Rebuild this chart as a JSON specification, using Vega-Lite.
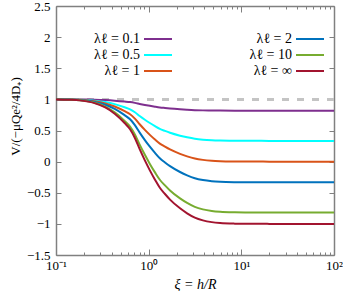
{
  "$schema": "https://vega.github.io/schema/vega-lite/v6.json",
  "width": 278,
  "height": 249,
  "autosize": "none",
  "padding": {"left": 56, "top": 6, "right": 9, "bottom": 36},
  "config": {
    "view": {"stroke": null},
    "font": "Liberation Serif",
    "axis": {
      "grid": false,
      "domainColor": "#808080",
      "domainWidth": 1.5,
      "tickColor": "#808080",
      "tickWidth": 1,
      "labelFont": "Liberation Serif",
      "labelFontSize": 13,
      "labelColor": "#000000",
      "titleFont": "Liberation Serif",
      "titleFontSize": 13,
      "titleFontWeight": "normal",
      "titleColor": "#000000",
      "labelFlush": false,
      "labelOverlap": false
    }
  },
  "data": {
    "values": [
      {"x": 0.1, "s": "λℓ = 0.1", "v": 1}, {"x": 0.14, "s": "λℓ = 0.1", "v": 0.9995}, {"x": 0.18, "s": "λℓ = 0.1", "v": 0.9985}, {"x": 0.23, "s": "λℓ = 0.1", "v": 0.9964}, {"x": 0.26, "s": "λℓ = 0.1", "v": 0.9945}, {"x": 0.34, "s": "λℓ = 0.1", "v": 0.9882}, {"x": 0.43, "s": "λℓ = 0.1", "v": 0.9791}, {"x": 0.55, "s": "λℓ = 0.1", "v": 0.9655}, {"x": 0.63, "s": "λℓ = 0.1", "v": 0.9564}, {"x": 0.71, "s": "λℓ = 0.1", "v": 0.9436}, {"x": 0.8, "s": "λℓ = 0.1", "v": 0.9273}, {"x": 0.91, "s": "λℓ = 0.1", "v": 0.9109}, {"x": 1.03, "s": "λℓ = 0.1", "v": 0.8964}, {"x": 1.17, "s": "λℓ = 0.1", "v": 0.8827}, {"x": 1.32, "s": "λℓ = 0.1", "v": 0.8709}, {"x": 1.5, "s": "λℓ = 0.1", "v": 0.8618}, {"x": 1.7, "s": "λℓ = 0.1", "v": 0.8536}, {"x": 2.18, "s": "λℓ = 0.1", "v": 0.8409}, {"x": 2.6, "s": "λℓ = 0.1", "v": 0.8336}, {"x": 3.15, "s": "λℓ = 0.1", "v": 0.8273}, {"x": 3.85, "s": "λℓ = 0.1", "v": 0.8233}, {"x": 4.8, "s": "λℓ = 0.1", "v": 0.8207}, {"x": 5.9, "s": "λℓ = 0.1", "v": 0.8195}, {"x": 8.5, "s": "λℓ = 0.1", "v": 0.8185}, {"x": 12.4, "s": "λℓ = 0.1", "v": 0.8183}, {"x": 20, "s": "λℓ = 0.1", "v": 0.8182}, {"x": 100, "s": "λℓ = 0.1", "v": 0.8182},
      {"x": 0.1, "s": "λℓ = 0.5", "v": 1}, {"x": 0.14, "s": "λℓ = 0.5", "v": 0.998}, {"x": 0.18, "s": "λℓ = 0.5", "v": 0.9947}, {"x": 0.23, "s": "λℓ = 0.5", "v": 0.9867}, {"x": 0.26, "s": "λℓ = 0.5", "v": 0.98}, {"x": 0.34, "s": "λℓ = 0.5", "v": 0.9567}, {"x": 0.43, "s": "λℓ = 0.5", "v": 0.9233}, {"x": 0.55, "s": "λℓ = 0.5", "v": 0.8733}, {"x": 0.63, "s": "λℓ = 0.5", "v": 0.84}, {"x": 0.71, "s": "λℓ = 0.5", "v": 0.7933}, {"x": 0.8, "s": "λℓ = 0.5", "v": 0.7333}, {"x": 0.91, "s": "λℓ = 0.5", "v": 0.6733}, {"x": 1.03, "s": "λℓ = 0.5", "v": 0.62}, {"x": 1.17, "s": "λℓ = 0.5", "v": 0.57}, {"x": 1.32, "s": "λℓ = 0.5", "v": 0.5267}, {"x": 1.5, "s": "λℓ = 0.5", "v": 0.4933}, {"x": 1.7, "s": "λℓ = 0.5", "v": 0.4633}, {"x": 2.18, "s": "λℓ = 0.5", "v": 0.4167}, {"x": 2.6, "s": "λℓ = 0.5", "v": 0.39}, {"x": 3.15, "s": "λℓ = 0.5", "v": 0.3667}, {"x": 3.85, "s": "λℓ = 0.5", "v": 0.352}, {"x": 4.8, "s": "λℓ = 0.5", "v": 0.3427}, {"x": 5.9, "s": "λℓ = 0.5", "v": 0.338}, {"x": 8.5, "s": "λℓ = 0.5", "v": 0.3347}, {"x": 12.4, "s": "λℓ = 0.5", "v": 0.3337}, {"x": 20, "s": "λℓ = 0.5", "v": 0.3333}, {"x": 100, "s": "λℓ = 0.5", "v": 0.3333},
      {"x": 0.1, "s": "λℓ = 1", "v": 1}, {"x": 0.14, "s": "λℓ = 1", "v": 0.997}, {"x": 0.18, "s": "λℓ = 1", "v": 0.992}, {"x": 0.23, "s": "λℓ = 1", "v": 0.98}, {"x": 0.26, "s": "λℓ = 1", "v": 0.97}, {"x": 0.34, "s": "λℓ = 1", "v": 0.935}, {"x": 0.43, "s": "λℓ = 1", "v": 0.885}, {"x": 0.55, "s": "λℓ = 1", "v": 0.81}, {"x": 0.63, "s": "λℓ = 1", "v": 0.76}, {"x": 0.71, "s": "λℓ = 1", "v": 0.69}, {"x": 0.8, "s": "λℓ = 1", "v": 0.6}, {"x": 0.91, "s": "λℓ = 1", "v": 0.51}, {"x": 1.03, "s": "λℓ = 1", "v": 0.43}, {"x": 1.17, "s": "λℓ = 1", "v": 0.355}, {"x": 1.32, "s": "λℓ = 1", "v": 0.29}, {"x": 1.5, "s": "λℓ = 1", "v": 0.24}, {"x": 1.7, "s": "λℓ = 1", "v": 0.195}, {"x": 2.18, "s": "λℓ = 1", "v": 0.125}, {"x": 2.6, "s": "λℓ = 1", "v": 0.085}, {"x": 3.15, "s": "λℓ = 1", "v": 0.05}, {"x": 3.85, "s": "λℓ = 1", "v": 0.028}, {"x": 4.8, "s": "λℓ = 1", "v": 0.014}, {"x": 5.9, "s": "λℓ = 1", "v": 0.007}, {"x": 8.5, "s": "λℓ = 1", "v": 0.002}, {"x": 12.4, "s": "λℓ = 1", "v": 0.0005}, {"x": 20, "s": "λℓ = 1", "v": 0}, {"x": 100, "s": "λℓ = 1", "v": 0},
      {"x": 0.1, "s": "λℓ = 2", "v": 1}, {"x": 0.14, "s": "λℓ = 2", "v": 0.996}, {"x": 0.18, "s": "λℓ = 2", "v": 0.9893}, {"x": 0.23, "s": "λℓ = 2", "v": 0.9733}, {"x": 0.26, "s": "λℓ = 2", "v": 0.96}, {"x": 0.34, "s": "λℓ = 2", "v": 0.9133}, {"x": 0.43, "s": "λℓ = 2", "v": 0.8467}, {"x": 0.55, "s": "λℓ = 2", "v": 0.7467}, {"x": 0.63, "s": "λℓ = 2", "v": 0.68}, {"x": 0.71, "s": "λℓ = 2", "v": 0.5867}, {"x": 0.8, "s": "λℓ = 2", "v": 0.4667}, {"x": 0.91, "s": "λℓ = 2", "v": 0.3467}, {"x": 1.03, "s": "λℓ = 2", "v": 0.24}, {"x": 1.17, "s": "λℓ = 2", "v": 0.14}, {"x": 1.32, "s": "λℓ = 2", "v": 0.0533}, {"x": 1.5, "s": "λℓ = 2", "v": -0.0133}, {"x": 1.7, "s": "λℓ = 2", "v": -0.0733}, {"x": 2.18, "s": "λℓ = 2", "v": -0.1667}, {"x": 2.6, "s": "λℓ = 2", "v": -0.22}, {"x": 3.15, "s": "λℓ = 2", "v": -0.2667}, {"x": 3.85, "s": "λℓ = 2", "v": -0.296}, {"x": 4.8, "s": "λℓ = 2", "v": -0.3147}, {"x": 5.9, "s": "λℓ = 2", "v": -0.324}, {"x": 8.5, "s": "λℓ = 2", "v": -0.3307}, {"x": 12.4, "s": "λℓ = 2", "v": -0.3327}, {"x": 20, "s": "λℓ = 2", "v": -0.3333}, {"x": 100, "s": "λℓ = 2", "v": -0.3333},
      {"x": 0.1, "s": "λℓ = 10", "v": 1}, {"x": 0.14, "s": "λℓ = 10", "v": 0.9945}, {"x": 0.18, "s": "λℓ = 10", "v": 0.9855}, {"x": 0.23, "s": "λℓ = 10", "v": 0.9636}, {"x": 0.26, "s": "λℓ = 10", "v": 0.9455}, {"x": 0.34, "s": "λℓ = 10", "v": 0.8818}, {"x": 0.43, "s": "λℓ = 10", "v": 0.7909}, {"x": 0.55, "s": "λℓ = 10", "v": 0.6545}, {"x": 0.63, "s": "λℓ = 10", "v": 0.5636}, {"x": 0.71, "s": "λℓ = 10", "v": 0.4364}, {"x": 0.8, "s": "λℓ = 10", "v": 0.2727}, {"x": 0.91, "s": "λℓ = 10", "v": 0.1091}, {"x": 1.03, "s": "λℓ = 10", "v": -0.0364}, {"x": 1.17, "s": "λℓ = 10", "v": -0.1727}, {"x": 1.32, "s": "λℓ = 10", "v": -0.2909}, {"x": 1.5, "s": "λℓ = 10", "v": -0.3818}, {"x": 1.7, "s": "λℓ = 10", "v": -0.4636}, {"x": 2.18, "s": "λℓ = 10", "v": -0.5909}, {"x": 2.6, "s": "λℓ = 10", "v": -0.6636}, {"x": 3.15, "s": "λℓ = 10", "v": -0.7273}, {"x": 3.85, "s": "λℓ = 10", "v": -0.7673}, {"x": 4.8, "s": "λℓ = 10", "v": -0.7927}, {"x": 5.9, "s": "λℓ = 10", "v": -0.8055}, {"x": 8.5, "s": "λℓ = 10", "v": -0.8145}, {"x": 12.4, "s": "λℓ = 10", "v": -0.8173}, {"x": 20, "s": "λℓ = 10", "v": -0.8182}, {"x": 100, "s": "λℓ = 10", "v": -0.8182},
      {"x": 0.1, "s": "λℓ = ∞", "v": 1}, {"x": 0.14, "s": "λℓ = ∞", "v": 0.994}, {"x": 0.18, "s": "λℓ = ∞", "v": 0.984}, {"x": 0.23, "s": "λℓ = ∞", "v": 0.96}, {"x": 0.26, "s": "λℓ = ∞", "v": 0.94}, {"x": 0.34, "s": "λℓ = ∞", "v": 0.87}, {"x": 0.43, "s": "λℓ = ∞", "v": 0.77}, {"x": 0.55, "s": "λℓ = ∞", "v": 0.62}, {"x": 0.63, "s": "λℓ = ∞", "v": 0.52}, {"x": 0.71, "s": "λℓ = ∞", "v": 0.38}, {"x": 0.8, "s": "λℓ = ∞", "v": 0.2}, {"x": 0.91, "s": "λℓ = ∞", "v": 0.02}, {"x": 1.03, "s": "λℓ = ∞", "v": -0.14}, {"x": 1.17, "s": "λℓ = ∞", "v": -0.29}, {"x": 1.32, "s": "λℓ = ∞", "v": -0.42}, {"x": 1.5, "s": "λℓ = ∞", "v": -0.52}, {"x": 1.7, "s": "λℓ = ∞", "v": -0.61}, {"x": 2.18, "s": "λℓ = ∞", "v": -0.75}, {"x": 2.6, "s": "λℓ = ∞", "v": -0.83}, {"x": 3.15, "s": "λℓ = ∞", "v": -0.9}, {"x": 3.85, "s": "λℓ = ∞", "v": -0.944}, {"x": 4.8, "s": "λℓ = ∞", "v": -0.972}, {"x": 5.9, "s": "λℓ = ∞", "v": -0.986}, {"x": 8.5, "s": "λℓ = ∞", "v": -0.996}, {"x": 12.4, "s": "λℓ = ∞", "v": -0.999}, {"x": 20, "s": "λℓ = ∞", "v": -1}, {"x": 100, "s": "λℓ = ∞", "v": -1}
    ]
  },
  "layer": [
    {
      "mark": {"type": "rule", "color": "#c4c4c4", "strokeWidth": 2, "strokeDash": [7, 8]},
      "encoding": {
        "y": {"datum": 1, "type": "quantitative", "scale": {"domain": [-1.5, 2.5], "nice": false}, "axis": null}
      }
    },
    {
      "mark": {"type": "line", "strokeWidth": 2, "interpolate": "monotone"},
      "encoding": {
        "x": {
          "field": "x", "type": "quantitative",
          "scale": {"type": "log", "domain": [0.1, 100], "nice": false},
          "axis": {
            "orient": "bottom",
            "title": "ξ = h/R",
            "titleFont": "Liberation Serif",
            "titleFontStyle": "italic",
            "titleFontSize": 14,
            "titlePadding": 2,
            "labelFont": "Liberation Serif",
            "values": [0.1, 0.2, 0.3, 0.4, 0.5, 0.6, 0.7, 0.8, 0.9, 1, 2, 3, 4, 5, 6, 7, 8, 9, 10, 20, 30, 40, 50, 60, 70, 80, 90, 100],
            "labelExpr": "datum.value == 0.1 ? '10⁻¹' : datum.value == 1 ? '10⁰' : datum.value == 10 ? '10¹' : datum.value == 100 ? '10²' : ''",
            "tickSize": {"condition": {"test": "datum.value == 0.1 || datum.value == 1 || datum.value == 10 || datum.value == 100", "value": -6}, "value": -3},
            "labelPadding": 10
          }
        },
        "y": {
          "field": "v", "type": "quantitative",
          "scale": {"domain": [-1.5, 2.5], "nice": false},
          "axis": {
            "orient": "left",
            "title": "V/(−μQe²/4D₊)",
            "titleFont": "Liberation Serif",
            "titleFontSize": 13,
            "titlePadding": 4,
            "titleY": 110,
            "labelFont": "Liberation Serif",
            "format": "~g",
            "values": [-1.5, -1, -0.5, 0, 0.5, 1, 1.5, 2, 2.5],
            "tickSize": -5,
            "labelPadding": 11
          }
        },
        "color": {
          "field": "s", "type": "nominal",
          "scale": {
            "domain": ["λℓ = 0.1", "λℓ = 0.5", "λℓ = 1", "λℓ = 2", "λℓ = 10", "λℓ = ∞"],
            "range": ["#7E2F8E", "#00FFFF", "#D95319", "#0072BD", "#77AC30", "#A2142F"]
          },
          "legend": {
            "orient": "none",
            "legendX": 95,
            "legendY": 26,
            "title": null,
            "columns": 2,
            "symbolType": "M-3,0H3",
            "symbolSize": 87,
            "symbolStrokeWidth": 2,
            "labelAlign": "right",
            "labelOffset": -25,
            "labelFont": "Liberation Serif",
            "labelFontSize": 14,
            "labelColor": "#000000",
            "rowPadding": 2,
            "columnPadding": 73
          }
        }
      }
    },
    {
      "mark": {"type": "line", "opacity": 0},
      "encoding": {
        "x": {
          "field": "x", "type": "quantitative",
          "scale": {"type": "log", "domain": [0.1, 100], "nice": false},
          "axis": {
            "orient": "top",
            "title": null,
            "labels": false,
            "values": [0.1, 0.2, 0.3, 0.4, 0.5, 0.6, 0.7, 0.8, 0.9, 1, 2, 3, 4, 5, 6, 7, 8, 9, 10, 20, 30, 40, 50, 60, 70, 80, 90, 100],
            "tickSize": {"condition": {"test": "datum.value == 0.1 || datum.value == 1 || datum.value == 10 || datum.value == 100", "value": -6}, "value": -3}
          }
        },
        "y": {
          "field": "v", "type": "quantitative",
          "scale": {"domain": [-1.5, 2.5], "nice": false},
          "axis": {
            "orient": "right",
            "title": null,
            "labels": false,
            "values": [-1.5, -1, -0.5, 0, 0.5, 1, 1.5, 2, 2.5],
            "tickSize": -5
          }
        },
        "detail": {"field": "s", "type": "nominal"}
      }
    }
  ],
  "resolve": {"axis": {"x": "independent", "y": "independent"}}
}
